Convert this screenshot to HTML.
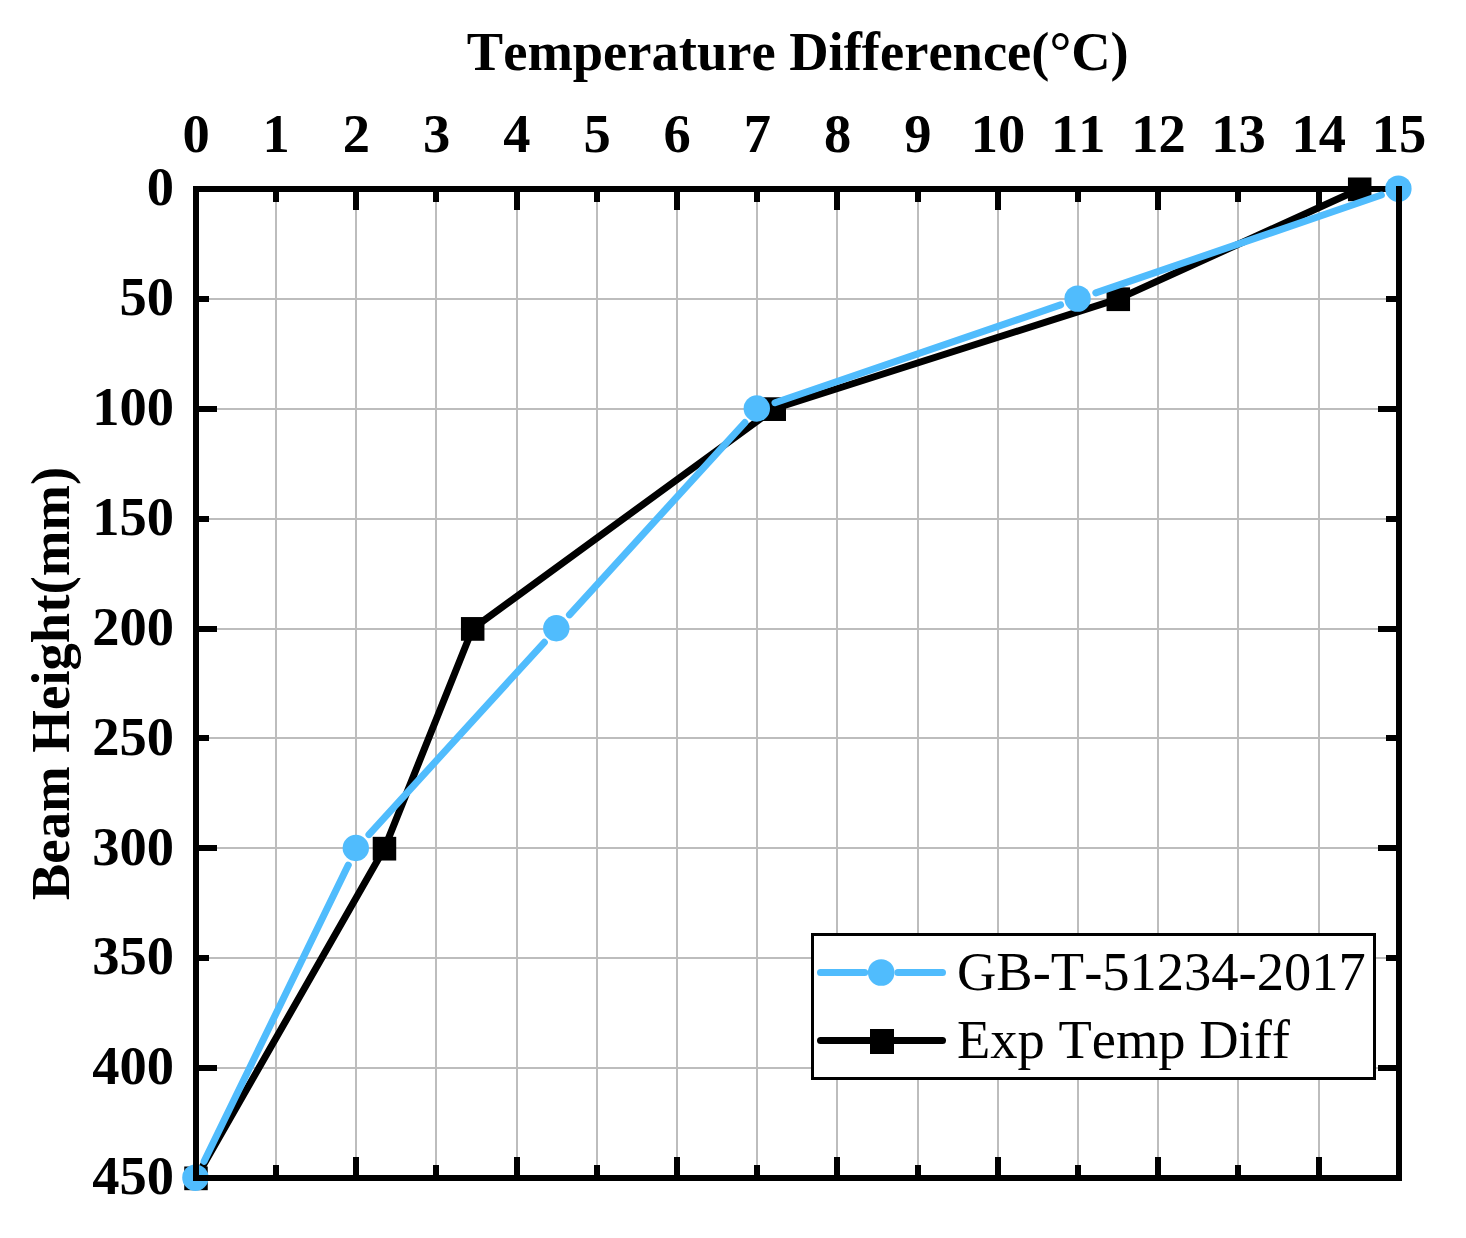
<!DOCTYPE html>
<html><head><meta charset="utf-8"><title>Temperature Difference</title>
<style>html,body{margin:0;padding:0;background:#fff}svg{display:block}text{font-family:"Liberation Serif",serif;fill:#000;font-kerning:none;font-variant-ligatures:none;font-feature-settings:"kern" 0,"liga" 0}</style></head><body>
<svg width="1466" height="1238" viewBox="0 0 1466 1238">
<rect width="1466" height="1238" fill="#fff"/>
<g stroke="#bdbdbd" stroke-width="2"><line x1="276.0" y1="189.0" x2="276.0" y2="1178.0"/><line x1="356.0" y1="189.0" x2="356.0" y2="1178.0"/><line x1="436.0" y1="189.0" x2="436.0" y2="1178.0"/><line x1="517.0" y1="189.0" x2="517.0" y2="1178.0"/><line x1="597.0" y1="189.0" x2="597.0" y2="1178.0"/><line x1="677.0" y1="189.0" x2="677.0" y2="1178.0"/><line x1="757.0" y1="189.0" x2="757.0" y2="1178.0"/><line x1="837.0" y1="189.0" x2="837.0" y2="1178.0"/><line x1="918.0" y1="189.0" x2="918.0" y2="1178.0"/><line x1="998.0" y1="189.0" x2="998.0" y2="1178.0"/><line x1="1078.0" y1="189.0" x2="1078.0" y2="1178.0"/><line x1="1158.0" y1="189.0" x2="1158.0" y2="1178.0"/><line x1="1238.0" y1="189.0" x2="1238.0" y2="1178.0"/><line x1="1319.0" y1="189.0" x2="1319.0" y2="1178.0"/><line x1="196.0" y1="299.0" x2="1399.0" y2="299.0"/><line x1="196.0" y1="409.0" x2="1399.0" y2="409.0"/><line x1="196.0" y1="519.0" x2="1399.0" y2="519.0"/><line x1="196.0" y1="629.0" x2="1399.0" y2="629.0"/><line x1="196.0" y1="738.0" x2="1399.0" y2="738.0"/><line x1="196.0" y1="848.0" x2="1399.0" y2="848.0"/><line x1="196.0" y1="958.0" x2="1399.0" y2="958.0"/><line x1="196.0" y1="1068.0" x2="1399.0" y2="1068.0"/></g>
<g stroke="#000" stroke-width="6"><line x1="276.0" y1="189.0" x2="276.0" y2="202.0"/><line x1="276.0" y1="1178.0" x2="276.0" y2="1165.0"/><line x1="356.0" y1="189.0" x2="356.0" y2="210.0"/><line x1="356.0" y1="1178.0" x2="356.0" y2="1157.0"/><line x1="436.0" y1="189.0" x2="436.0" y2="202.0"/><line x1="436.0" y1="1178.0" x2="436.0" y2="1165.0"/><line x1="517.0" y1="189.0" x2="517.0" y2="210.0"/><line x1="517.0" y1="1178.0" x2="517.0" y2="1157.0"/><line x1="597.0" y1="189.0" x2="597.0" y2="202.0"/><line x1="597.0" y1="1178.0" x2="597.0" y2="1165.0"/><line x1="677.0" y1="189.0" x2="677.0" y2="210.0"/><line x1="677.0" y1="1178.0" x2="677.0" y2="1157.0"/><line x1="757.0" y1="189.0" x2="757.0" y2="202.0"/><line x1="757.0" y1="1178.0" x2="757.0" y2="1165.0"/><line x1="837.0" y1="189.0" x2="837.0" y2="210.0"/><line x1="837.0" y1="1178.0" x2="837.0" y2="1157.0"/><line x1="918.0" y1="189.0" x2="918.0" y2="202.0"/><line x1="918.0" y1="1178.0" x2="918.0" y2="1165.0"/><line x1="998.0" y1="189.0" x2="998.0" y2="210.0"/><line x1="998.0" y1="1178.0" x2="998.0" y2="1157.0"/><line x1="1078.0" y1="189.0" x2="1078.0" y2="202.0"/><line x1="1078.0" y1="1178.0" x2="1078.0" y2="1165.0"/><line x1="1158.0" y1="189.0" x2="1158.0" y2="210.0"/><line x1="1158.0" y1="1178.0" x2="1158.0" y2="1157.0"/><line x1="1238.0" y1="189.0" x2="1238.0" y2="202.0"/><line x1="1238.0" y1="1178.0" x2="1238.0" y2="1165.0"/><line x1="1319.0" y1="189.0" x2="1319.0" y2="210.0"/><line x1="1319.0" y1="1178.0" x2="1319.0" y2="1157.0"/><line x1="196.0" y1="299.0" x2="209.0" y2="299.0"/><line x1="1399.0" y1="299.0" x2="1386.0" y2="299.0"/><line x1="196.0" y1="409.0" x2="217.0" y2="409.0"/><line x1="1399.0" y1="409.0" x2="1378.0" y2="409.0"/><line x1="196.0" y1="519.0" x2="209.0" y2="519.0"/><line x1="1399.0" y1="519.0" x2="1386.0" y2="519.0"/><line x1="196.0" y1="629.0" x2="217.0" y2="629.0"/><line x1="1399.0" y1="629.0" x2="1378.0" y2="629.0"/><line x1="196.0" y1="738.0" x2="209.0" y2="738.0"/><line x1="1399.0" y1="738.0" x2="1386.0" y2="738.0"/><line x1="196.0" y1="848.0" x2="217.0" y2="848.0"/><line x1="1399.0" y1="848.0" x2="1378.0" y2="848.0"/><line x1="196.0" y1="958.0" x2="209.0" y2="958.0"/><line x1="1399.0" y1="958.0" x2="1386.0" y2="958.0"/><line x1="196.0" y1="1068.0" x2="217.0" y2="1068.0"/><line x1="1399.0" y1="1068.0" x2="1378.0" y2="1068.0"/></g>
<line x1="193.0" y1="189.0" x2="1402.0" y2="189.0" stroke="#000" stroke-width="6"/>
<polyline points="1359.70,189.00 1118.30,298.89 774.24,408.78 472.69,628.56 384.47,848.33 196.00,1178.00" fill="none" stroke="#000" stroke-width="7" stroke-linejoin="round"/>
<rect x="1347.95" y="177.50" width="23.5" height="23.7" fill="#000"/>
<rect x="1106.55" y="287.39" width="23.5" height="23.7" fill="#000"/>
<rect x="762.49" y="397.28" width="23.5" height="23.7" fill="#000"/>
<rect x="460.94" y="617.06" width="23.5" height="23.7" fill="#000"/>
<rect x="372.72" y="836.83" width="23.5" height="23.7" fill="#000"/>
<rect x="184.25" y="1166.50" width="23.5" height="23.7" fill="#000"/>
<line x1="1381.40" y1="195.03" x2="1095.80" y2="292.86" stroke="#50bcfd" stroke-width="7" stroke-linecap="round"/>
<line x1="1060.60" y1="304.92" x2="775.00" y2="402.75" stroke="#50bcfd" stroke-width="7" stroke-linecap="round"/>
<line x1="744.86" y1="422.52" x2="569.44" y2="614.81" stroke="#50bcfd" stroke-width="7" stroke-linecap="round"/>
<line x1="544.36" y1="642.30" x2="368.94" y2="834.59" stroke="#50bcfd" stroke-width="7" stroke-linecap="round"/>
<line x1="348.26" y1="865.06" x2="204.14" y2="1161.27" stroke="#50bcfd" stroke-width="7" stroke-linecap="round"/>
<circle cx="1398.40" cy="188.70" r="13.2" fill="#50bcfd"/>
<circle cx="1077.60" cy="298.59" r="13.2" fill="#50bcfd"/>
<circle cx="756.80" cy="408.48" r="13.2" fill="#50bcfd"/>
<circle cx="556.30" cy="628.26" r="13.2" fill="#50bcfd"/>
<circle cx="355.80" cy="848.03" r="13.2" fill="#50bcfd"/>
<circle cx="195.40" cy="1177.70" r="13.2" fill="#50bcfd"/>
<path d="M196.0 186.0V1178.0H1399.0V186.0" fill="none" stroke="#000" stroke-width="6" stroke-linejoin="miter"/>
<text x="196.00" y="152.3" font-size="54.5" font-weight="bold" text-anchor="middle">0</text>
<text x="276.20" y="152.3" font-size="54.5" font-weight="bold" text-anchor="middle">1</text>
<text x="356.40" y="152.3" font-size="54.5" font-weight="bold" text-anchor="middle">2</text>
<text x="436.60" y="152.3" font-size="54.5" font-weight="bold" text-anchor="middle">3</text>
<text x="516.80" y="152.3" font-size="54.5" font-weight="bold" text-anchor="middle">4</text>
<text x="597.00" y="152.3" font-size="54.5" font-weight="bold" text-anchor="middle">5</text>
<text x="677.20" y="152.3" font-size="54.5" font-weight="bold" text-anchor="middle">6</text>
<text x="757.40" y="152.3" font-size="54.5" font-weight="bold" text-anchor="middle">7</text>
<text x="837.60" y="152.3" font-size="54.5" font-weight="bold" text-anchor="middle">8</text>
<text x="917.80" y="152.3" font-size="54.5" font-weight="bold" text-anchor="middle">9</text>
<text x="998.00" y="152.3" font-size="54.5" font-weight="bold" text-anchor="middle">10</text>
<text x="1078.20" y="152.3" font-size="54.5" font-weight="bold" text-anchor="middle">11</text>
<text x="1158.40" y="152.3" font-size="54.5" font-weight="bold" text-anchor="middle">12</text>
<text x="1238.60" y="152.3" font-size="54.5" font-weight="bold" text-anchor="middle">13</text>
<text x="1318.80" y="152.3" font-size="54.5" font-weight="bold" text-anchor="middle">14</text>
<text x="1399.00" y="152.3" font-size="54.5" font-weight="bold" text-anchor="middle">15</text>
<text x="174" y="205.20" font-size="54.5" font-weight="bold" text-anchor="end">0</text>
<text x="174" y="315.09" font-size="54.5" font-weight="bold" text-anchor="end">50</text>
<text x="174" y="424.98" font-size="54.5" font-weight="bold" text-anchor="end">100</text>
<text x="174" y="534.87" font-size="54.5" font-weight="bold" text-anchor="end">150</text>
<text x="174" y="644.76" font-size="54.5" font-weight="bold" text-anchor="end">200</text>
<text x="174" y="754.64" font-size="54.5" font-weight="bold" text-anchor="end">250</text>
<text x="174" y="864.53" font-size="54.5" font-weight="bold" text-anchor="end">300</text>
<text x="174" y="974.42" font-size="54.5" font-weight="bold" text-anchor="end">350</text>
<text x="174" y="1084.31" font-size="54.5" font-weight="bold" text-anchor="end">400</text>
<text x="174" y="1194.20" font-size="54.5" font-weight="bold" text-anchor="end">450</text>
<text x="797.8" y="70" font-size="54.5" font-weight="bold" text-anchor="middle">Temperature Difference(°C)</text>
<text transform="translate(69,683.5) rotate(-90)" font-size="54.75" font-weight="bold" text-anchor="middle">Beam Height(mm)</text>
<rect x="812.5" y="934.5" width="562" height="144" fill="#fff" stroke="#000" stroke-width="3"/>
<path d="M820.5 972.5H864.7M897.9 972.5H942.5" stroke="#50bcfd" stroke-width="7" stroke-linecap="round"/><circle cx="881.2" cy="972.5" r="13.3" fill="#50bcfd"/>
<line x1="820.5" y1="1040.5" x2="942.5" y2="1040.5" stroke="#000" stroke-width="7" stroke-linecap="round"/><rect x="870" y="1029" width="24" height="25" fill="#000"/>
<text x="957" y="990.4" font-size="54.5">GB-T-51234-2017</text>
<text x="957" y="1057.5" font-size="54.5">Exp Temp Diff</text>
</svg></body></html>
